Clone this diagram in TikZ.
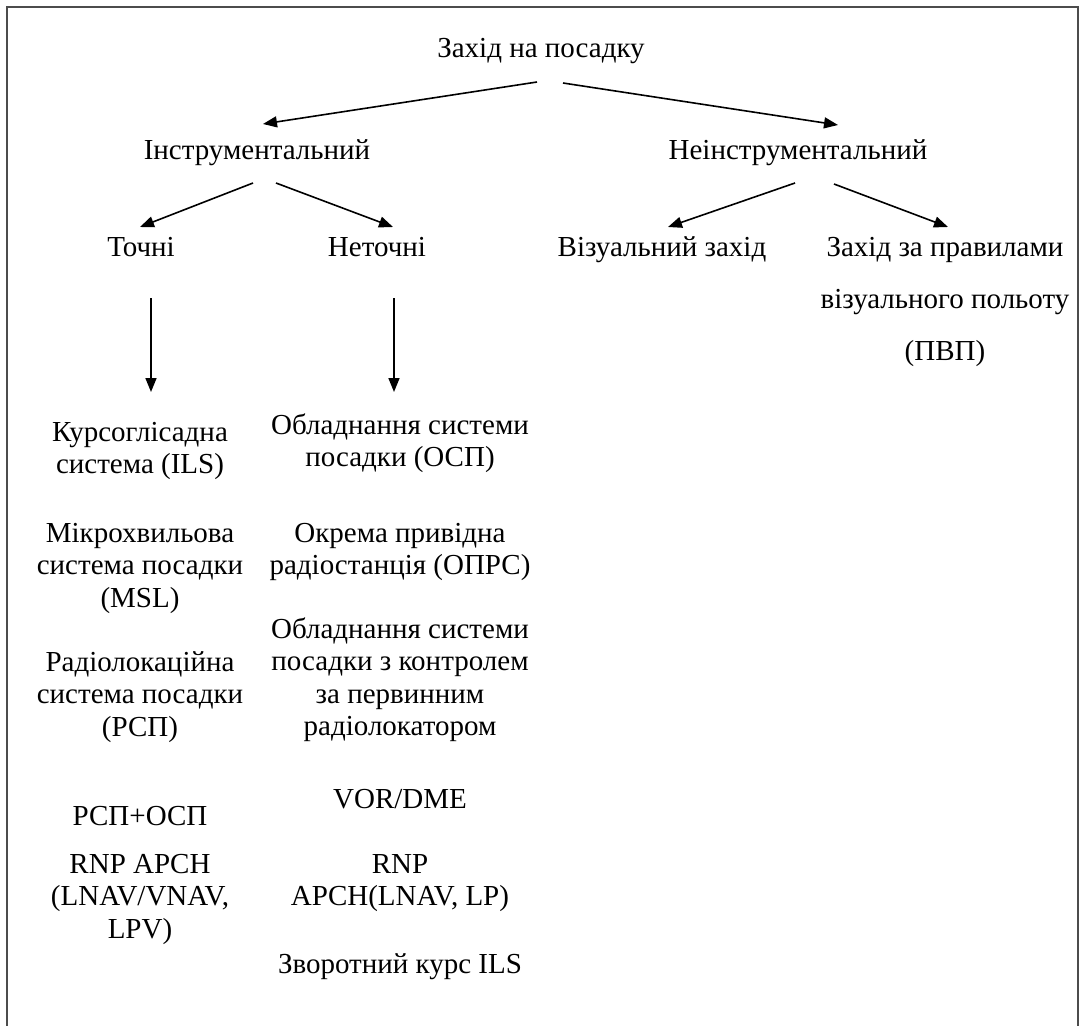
\documentclass[tikz,border=0pt]{standalone}
\usepackage{fontspec}
\setmainfont{Liberation Serif}
\usetikzlibrary{arrows.meta}
\newcommand{\fl}{\rule{0pt}{23pt}}
\tikzset{
  lbl/.style={inner sep=0pt, anchor=base, font=\fontsize{29}{32.5}\selectfont},
  blk/.style={inner sep=0pt, anchor=north, align=center, font=\fontsize{29}{32.5}\selectfont},
  arr/.style={line width=1.6pt, -{Triangle[length=14pt,width=11pt]}},
  frame/.style={line width=2pt, draw=black!70}
}
\begin{document}
\begin{tikzpicture}[x=1pt,y=-1pt]
\useasboundingbox (0,0) rectangle (1081,1025);
\clip (0,0) rectangle (1081,1025);
\draw[frame] (7,7) rectangle (1078,1060);
% top levels
\node[lbl] (root) at (541,57) {Захід на посадку};
\node[lbl] (instr) at (257,159) {Інструментальний};
\node[lbl] (neinstr) at (798,159) {Неінструментальний};
\node[lbl] (tochni) at (141,256) {Точні};
\node[lbl] (netochni) at (377,256) {Неточні};
\node[lbl] (vizual) at (662,256) {Візуальний захід};
\node[blk, font=\fontsize{29}{52}\selectfont] (pvp) at (945,233) {\fl Захід за правилами\\візуального польоту\\(ПВП)};
% left column
\node[blk] (ils) at (140,418) {\fl Курсоглісадна\\система (ILS)};
\node[blk] (msl) at (140,519) {\fl Мікрохвильова\\система посадки\\(MSL)};
\node[blk] (rsp) at (140,648) {\fl Радіолокаційна\\система посадки\\(РСП)};
\node[blk] (rspop) at (140,802) {\fl РСП+ОСП};
\node[blk] (rnpl) at (140,850) {\fl RNP APCH\\(LNAV/VNAV,\\LPV)};
% middle column
\node[blk] (osp) at (400,411) {\fl Обладнання системи\\посадки (ОСП)};
\node[blk] (oprs) at (400,519) {\fl Окрема привідна\\радіостанція (ОПРС)};
\node[blk] (pr) at (400,615) {\fl Обладнання системи\\посадки з контролем\\за первинним\\радіолокатором};
\node[blk] (vor) at (400,785) {\fl VOR/DME};
\node[blk] (rnpm) at (400,850) {\fl RNP\\APCH(LNAV, LP)};
\node[blk] (back) at (400,950) {\fl Зворотний курс ILS};
% connectors
\draw[arr] ([shift={(-4,25)}]root.base) -- ([shift={(6,-35)}]instr.base);
\draw[arr] ([shift={(22,26)}]root.base) -- ([shift={(40,-34)}]neinstr.base);
\draw[arr] ([shift={(-4,24)}]instr.base) -- ([shift={(-1,-29)}]tochni.base);
\draw[arr] ([shift={(19,24)}]instr.base) -- ([shift={(16,-29)}]netochni.base);
\draw[arr] ([shift={(-3,24)}]neinstr.base) -- ([shift={(6,-29)}]vizual.base);
\draw[arr] ([shift={(36,25)}]neinstr.base) -- ([shift={(3,-6)}]pvp.north);
\draw[arr] ([shift={(10,42)}]tochni.base) -- ([shift={(10,136)}]tochni.base);
\draw[arr] ([shift={(17,42)}]netochni.base) -- ([shift={(17,136)}]netochni.base);
\end{tikzpicture}
\end{document}
